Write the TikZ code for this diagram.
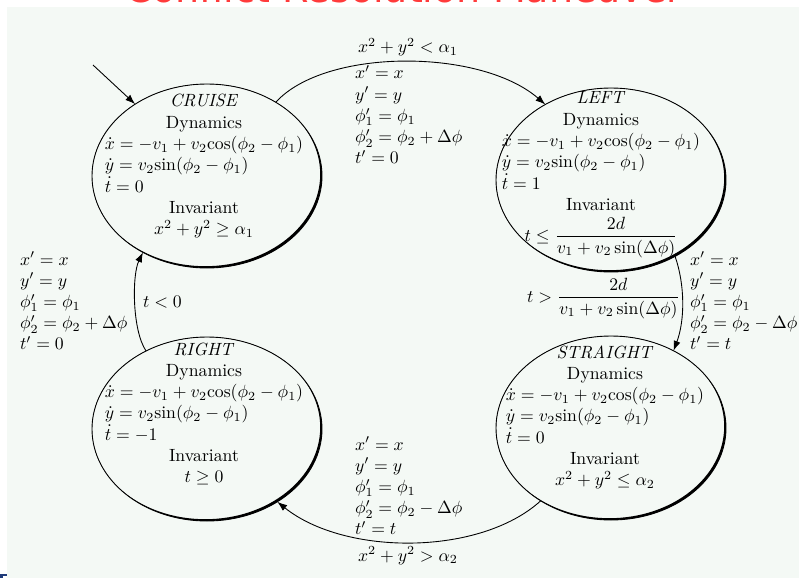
\documentclass[tikz,border=0pt]{standalone}
\usepackage{fontspec}
\usepackage{amsmath}
\usetikzlibrary{shapes.geometric,arrows.meta}
\newfontfamily\titlefont{DejaVu Sans}
\definecolor{panelbg}{HTML}{F4F9F5}
\definecolor{titlered}{HTML}{FF3B3B}
\definecolor{navymark}{HTML}{1F3B7A}
\tikzset{
  statebox/.style={ellipse, draw, line width=0.5pt, minimum width=129.95pt, minimum height=103.96pt, inner sep=0pt, outer sep=0pt},
  conn/.style={line width=0.5pt, -{Latex[length=5.6pt,width=4pt]}},
  txt/.style={inner sep=0pt, outer sep=0pt},
}
\newcommand{\rimshadow}[2]{%
  \begin{scope}
    \clip (#1,#2) ellipse [x radius=115, y radius=92];
    \fill[black, even odd rule] (#1,#2) ellipse [x radius=115, y radius=92] (#1-1.8,#2-1.8) ellipse [x radius=115, y radius=92];
  \end{scope}}
\begin{document}
\begin{tikzpicture}[x=0.565pt,y=-0.565pt]
\useasboundingbox (0,0) rectangle (799,578);
\clip (0,0) rectangle (799,578);
\fill[white] (0,0) rectangle (799,578);
\node[txt, anchor=base, text=titlered, font=\titlefont\fontsize{21.5}{24}\selectfont] (title) at (404,3) {Conflict Resolution Maneuver};
\fill[panelbg] (7,7) rectangle (799,578);
\fill[navymark] (0,574) rectangle (7,576);
\fill[navymark] (0,574) rectangle (3,578);

% states
\node[statebox] (cruise) at (207,176) {};
\node[statebox] (left) at (611,180) {};
\node[statebox] (right) at (207,429) {};
\node[statebox] (straight) at (611,428) {};
\rimshadow{207}{176}
\rimshadow{611}{180}
\rimshadow{207}{429}
\rimshadow{611}{428}

\node[txt, anchor=base] (cruisetxt) at (204,107) {\begin{tabular}[t]{@{}l@{}}
\multicolumn{1}{c}{\textit{CRUISE}}\\
\multicolumn{1}{c}{Dynamics}\\
$\dot x = -v_1 + v_2{\rm cos}(\phi_2-\phi_1)$\\
$\dot y = v_2{\rm sin}(\phi_2-\phi_1)$\\
$\dot t = 0$\\
\multicolumn{1}{c}{Invariant}\\
\multicolumn{1}{c}{$x^2+y^2\geq\alpha_1$}
\end{tabular}};

\node[txt, anchor=base] (lefttxt) at (601,104) {\begin{tabular}[t]{@{}l@{}}
\multicolumn{1}{c}{\textit{LEFT}}\\
\multicolumn{1}{c}{Dynamics}\\
$\dot x = -v_1 + v_2{\rm cos}(\phi_2-\phi_1)$\\
$\dot y = v_2{\rm sin}(\phi_2-\phi_1)$\\
$\dot t = 1$\\
\multicolumn{1}{c}{Invariant}\\
\multicolumn{1}{c}{$t\leq\dfrac{2d}{v_1+v_2\sin(\Delta\phi)}$}
\end{tabular}};

\node[txt, anchor=base] (righttxt) at (204,355) {\begin{tabular}[t]{@{}l@{}}
\multicolumn{1}{c}{\textit{RIGHT}}\\
\multicolumn{1}{c}{Dynamics}\\
$\dot x = -v_1 + v_2{\rm cos}(\phi_2-\phi_1)$\\
$\dot y = v_2{\rm sin}(\phi_2-\phi_1)$\\
$\dot t = -1$\\
\multicolumn{1}{c}{Invariant}\\
\multicolumn{1}{c}{$t\geq 0$}
\end{tabular}};

\node[txt, anchor=base] (straighttxt) at (605,358) {\begin{tabular}[t]{@{}l@{}}
\multicolumn{1}{c}{\textit{STRAIGHT}}\\
\multicolumn{1}{c}{Dynamics}\\
$\dot x = -v_1 + v_2{\rm cos}(\phi_2-\phi_1)$\\
$\dot y = v_2{\rm sin}(\phi_2-\phi_1)$\\
$\dot t = 0$\\
\multicolumn{1}{c}{Invariant}\\
\multicolumn{1}{c}{$x^2+y^2\leq\alpha_2$}
\end{tabular}};

% transitions
\coordinate (init) at (93,65);
\draw[conn] (init) -- (cruise.135);
\draw[conn] (cruise.47) .. controls (325,48) and (480,48) .. (left.131);
\draw[conn] (left.-50) .. controls (685,285) and (685,320) .. (straight.51);
\draw[conn] (straight.226) .. controls (480,556) and (345,556) .. (right.-46);
\draw[conn] (right.128) .. controls (132,330) and (132,275) .. (cruise.230);

% labels
\node[txt, anchor=base] (g1) at (408,53) {$x^2+y^2<\alpha_1$};
\node[txt, anchor=base west] (r1) at (355,79) {\begin{tabular}[t]{@{}l@{}}
$x'=x$\\ $y'=y$\\ $\phi'_1=\phi_1$\\ $\phi'_2=\phi_2+\Delta\phi$\\ $t'=0$
\end{tabular}};

\node[txt, anchor=base west] (g2) at (527,302) {$t>\dfrac{2d}{v_1+v_2\sin(\Delta\phi)}$};
\node[txt, anchor=base west] (r2) at (690,265) {\begin{tabular}[t]{@{}l@{}}
$x'=x$\\ $y'=y$\\ $\phi'_1=\phi_1$\\ $\phi'_2=\phi_2-\Delta\phi$\\ $t'=t$
\end{tabular}};

\node[txt, anchor=base] (g3) at (408,561) {$x^2+y^2>\alpha_2$};
\node[txt, anchor=base west] (r3) at (355,450) {\begin{tabular}[t]{@{}l@{}}
$x'=x$\\ $y'=y$\\ $\phi'_1=\phi_1$\\ $\phi'_2=\phi_2-\Delta\phi$\\ $t'=t$
\end{tabular}};

\node[txt, anchor=base west] (g4) at (143,307) {$t<0$};
\node[txt, anchor=base west] (r4) at (20,265) {\begin{tabular}[t]{@{}l@{}}
$x'=x$\\ $y'=y$\\ $\phi'_1=\phi_1$\\ $\phi'_2=\phi_2+\Delta\phi$\\ $t'=0$
\end{tabular}};
\end{tikzpicture}
\end{document}
